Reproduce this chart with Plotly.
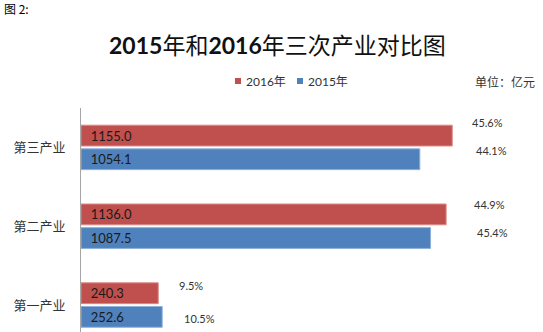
import plotly.graph_objects as go

# Output of the three industries (unit: 100 million yuan)
categories = ["第一产业", "第二产业", "第三产业"]
values_2015 = [252.6, 1087.5, 1054.1]
values_2016 = [240.3, 1136.0, 1155.0]
value_text_2015 = ["252.6", "1087.5", "1054.1"]
value_text_2016 = ["240.3", "1136.0", "1155.0"]

# Share of each industry, shown beside the bars
share_2015 = ["10.5%", "45.4%", "44.1%"]
share_2016 = ["9.5%", "44.9%", "45.6%"]
# Text-box anchors for the share labels (x in value units, y as category offset)
share_2015_pos = [(314, -0.165), (1227, 0.92), (1224, 1.96)]
share_2016_pos = [(299, 0.25), (1217, 1.27), (1211, 2.31)]

RED = "#C0504D"
BLUE = "#4F81BD"
FONT = "Lato, 'Noto Sans CJK SC', sans-serif"
CJK = "'Noto Sans CJK SC', sans-serif"
INSIDE_TEMPLATE = "\u00a0\u00a0%{text}"

fig = go.Figure()
fig.add_trace(go.Bar(
    name="2015年", y=categories, x=values_2015, orientation="h",
    marker=dict(color=BLUE, line=dict(color="#8FB0DA", width=1)),
    text=value_text_2015, texttemplate=INSIDE_TEMPLATE,
    textposition="inside", insidetextanchor="start",
    textfont=dict(size=13, color="#1a1a1a", family=FONT),
    constraintext="none", showlegend=False,
))
fig.add_trace(go.Bar(
    name="2016年", y=categories, x=values_2016, orientation="h",
    marker=dict(color=RED, line=dict(color="#D98C8A", width=1)),
    text=value_text_2016, texttemplate=INSIDE_TEMPLATE,
    textposition="inside", insidetextanchor="start",
    textfont=dict(size=13, color="#1a1a1a", family=FONT),
    constraintext="none", showlegend=False,
))

annotations = []
for labels, positions in ((share_2015, share_2015_pos), (share_2016, share_2016_pos)):
    for label, (px, py) in zip(labels, positions):
        annotations.append(dict(
            x=px, y=py, xref="x", yref="y", text=label, showarrow=False,
            xanchor="left", yanchor="middle",
            font=dict(size=11, color="#333333", family=FONT),
        ))

W, H = 543, 332
ML, MR, MT, MB = 81, 12, 108, 0

def px_x(p):
    return (p - ML) / (W - ML - MR)

def px_y(p):
    return (H - MB - p) / (H - MT - MB)

# Figure caption in the corner
annotations.append(dict(
    x=px_x(2), y=px_y(8), xref="paper", yref="paper", text="图 2:", showarrow=False,
    xanchor="left", yanchor="middle", font=dict(size=12, color="#000000", family=CJK),
))

# Title: bold digits, regular CJK
annotations.append(dict(
    x=px_x(277), y=px_y(45), xref="paper", yref="paper",
    text="<b>2015</b>年和<b>2016</b>年三次产业对比图", showarrow=False,
    xanchor="center", yanchor="middle",
    font=dict(size=23, color="#111111", family=FONT),
))

# Legend and unit note
shapes = []
legend_items = [("2016年", RED, 235), ("2015年", BLUE, 297)]
for name, color, left in legend_items:
    shapes.append(dict(
        type="rect", xref="paper", yref="paper",
        x0=px_x(left), x1=px_x(left + 6), y0=px_y(84), y1=px_y(78),
        fillcolor=color, line=dict(width=0),
    ))
    annotations.append(dict(
        x=px_x(left + 9), y=px_y(81), xref="paper", yref="paper", text=name,
        showarrow=False, xanchor="left", yanchor="middle",
        font=dict(size=12, color="#333333", family=FONT),
    ))
annotations.append(dict(
    x=px_x(537), y=px_y(81), xref="paper", yref="paper", text="单位：亿元",
    showarrow=False, xanchor="right", yanchor="middle",
    font=dict(size=12, color="#333333", family=CJK),
))

fig.update_layout(
    width=W, height=H,
    margin=dict(l=ML, r=MR, t=MT, b=MB, pad=0),
    paper_bgcolor="white", plot_bgcolor="white",
    barmode="group", bargap=0.40, bargroupgap=0.12,
    annotations=annotations, shapes=shapes,
    xaxis=dict(range=[0, 1400], visible=False, fixedrange=True),
    yaxis=dict(
        range=[-0.342, 2.5], showline=True, linecolor="#a6a6a6", linewidth=1,
        showgrid=False, zeroline=False, ticks="", ticklabelstandoff=12,
        tickfont=dict(size=13, color="#333333", family=CJK), fixedrange=True,
    ),
    font=dict(family=FONT),
)

fig.write_html("out.html")
